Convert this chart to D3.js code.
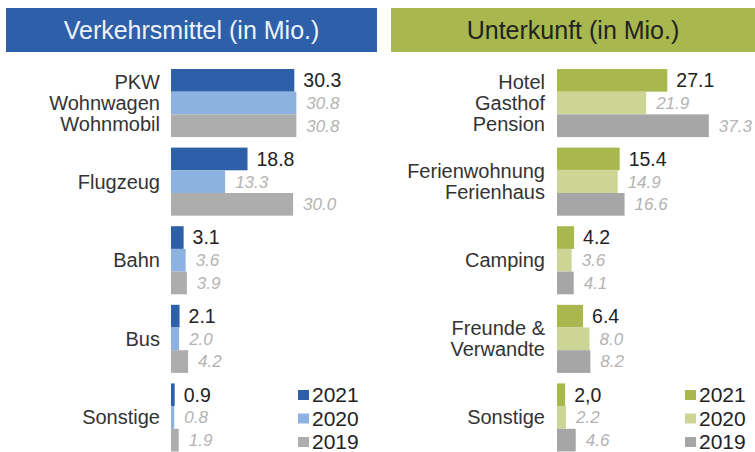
<!DOCTYPE html>
<html>
<head>
<meta charset="utf-8">
<script src="https://cdn.jsdelivr.net/npm/d3@7"></script>
<style>
  html, body { margin: 0; padding: 0; background: #fff; }
  svg { display: block; font-family: "Liberation Sans", Arial, sans-serif; }
</style>
</head>
<body>
<svg id="chart" width="755" height="452"></svg>
<script>
// Reisen nach Verkehrsmittel und Unterkunft, Mio., 2019–2021
const years = ["2021", "2020", "2019"];

const transportCategories = [["PKW", "Wohnwagen", "Wohnmobil"], ["Flugzeug"], ["Bahn"], ["Bus"], ["Sonstige"]];
const transport2021 = [30.3, 18.8, 3.1, 2.1, 0.9];
const transport2020 = [30.8, 13.3, 3.6, 2.0, 0.8];
const transport2019 = [30.8, 30.0, 3.9, 4.2, 1.9];

const lodgingCategories = [["Hotel", "Gasthof", "Pension"], ["Ferienwohnung", "Ferienhaus"], ["Camping"], ["Freunde &", "Verwandte"], ["Sonstige"]];
const lodging2021 = [27.1, 15.4, 4.2, 6.4, 2.0];
const lodging2020 = [21.9, 14.9, 3.6, 8.0, 2.2];
const lodging2019 = [37.3, 16.6, 4.1, 8.2, 4.6];
const lodging2021Labels = ["27.1", "15.4", "4.2", "6.4", "2,0"];

const fmt = d3.format(".1f");
const svg = d3.select("#chart");

const x = d3.scaleLinear().domain([0, 40]).range([0, 162.8]);
const yGroup = d3.scaleBand().domain(d3.range(5)).range([69, 451.5]).paddingInner(0.134).paddingOuter(0);
const yYear = d3.scaleBand().domain(years).range([0, yGroup.bandwidth()]);

function drawPanel(p) {
  const g = svg.append("g");

  // Titelbalken
  g.append("rect")
    .attr("x", p.headerX).attr("y", 8)
    .attr("width", p.headerW).attr("height", 44)
    .attr("fill", p.headerFill);
  g.append("text")
    .attr("x", p.headerX + p.headerW / 2).attr("y", 39)
    .attr("text-anchor", "middle")
    .attr("font-size", 25)
    .attr("fill", p.headerText)
    .text(p.title);

  const series = [
    { year: "2021", values: p.v2021, labels: p.labels2021 || p.v2021.map(fmt), color: p.colors[0] },
    { year: "2020", values: p.v2020, labels: p.v2020.map(fmt), color: p.colors[1] },
    { year: "2019", values: p.v2019, labels: p.v2019.map(fmt), color: p.colors[2] }
  ];

  // Kategorien
  p.categories.forEach((lines, i) => {
    const cy = yGroup(i) + yGroup.bandwidth() / 2;
    const t = g.append("text")
      .attr("text-anchor", "end")
      .attr("font-size", 20)
      .attr("fill", "#333");
    lines.forEach((line, k) => {
      t.append("tspan")
        .attr("x", p.labelX)
        .attr("y", cy + (k - (lines.length - 1) / 2) * 21)
        .attr("dy", "0.35em")
        .text(line);
    });
  });

  // Balken und Werte
  series.forEach(s => {
    s.values.forEach((v, i) => {
      const by = yGroup(i) + yYear(s.year);
      g.append("rect")
        .attr("x", p.barX).attr("y", by)
        .attr("width", x(v)).attr("height", yYear.bandwidth())
        .attr("fill", s.color);
      const current = s.year === "2021";
      g.append("text")
        .attr("x", p.barX + x(v) + (current ? 9 : 10))
        .attr("y", by + yYear.bandwidth() / 2)
        .attr("dy", "0.35em")
        .attr("font-size", current ? 19.5 : 17)
        .attr("font-style", current ? "normal" : "italic")
        .attr("fill", current ? "#222" : "#b3b3b3")
        .text(s.labels[i]);
    });
  });

  // Legende
  const legendY = d3.scalePoint().domain(years).range([395, 442]);
  series.forEach(s => {
    g.append("rect")
      .attr("x", p.legendX).attr("y", legendY(s.year) - 5)
      .attr("width", 11).attr("height", 10)
      .attr("fill", s.color);
    g.append("text")
      .attr("x", p.legendX + 14).attr("y", legendY(s.year))
      .attr("dy", "0.35em")
      .attr("font-size", 21)
      .attr("fill", "#222")
      .text(s.year);
  });
}

drawPanel({
  title: "Verkehrsmittel (in Mio.)",
  headerX: 6, headerW: 371, headerFill: "#2e5fa9", headerText: "#eef2fa",
  categories: transportCategories,
  v2021: transport2021, v2020: transport2020, v2019: transport2019,
  colors: ["#2e5fa9", "#8db1e0", "#adadad"],
  labelX: 160, barX: 171, legendX: 298
});

drawPanel({
  title: "Unterkunft (in Mio.)",
  headerX: 391, headerW: 364, headerFill: "#a9b84e", headerText: "#222",
  categories: lodgingCategories,
  v2021: lodging2021, v2020: lodging2020, v2019: lodging2019,
  labels2021: lodging2021Labels,
  colors: ["#a9b84e", "#cdd595", "#a6a6a6"],
  labelX: 545, barX: 557, legendX: 685
});
</script>
</body>
</html>
